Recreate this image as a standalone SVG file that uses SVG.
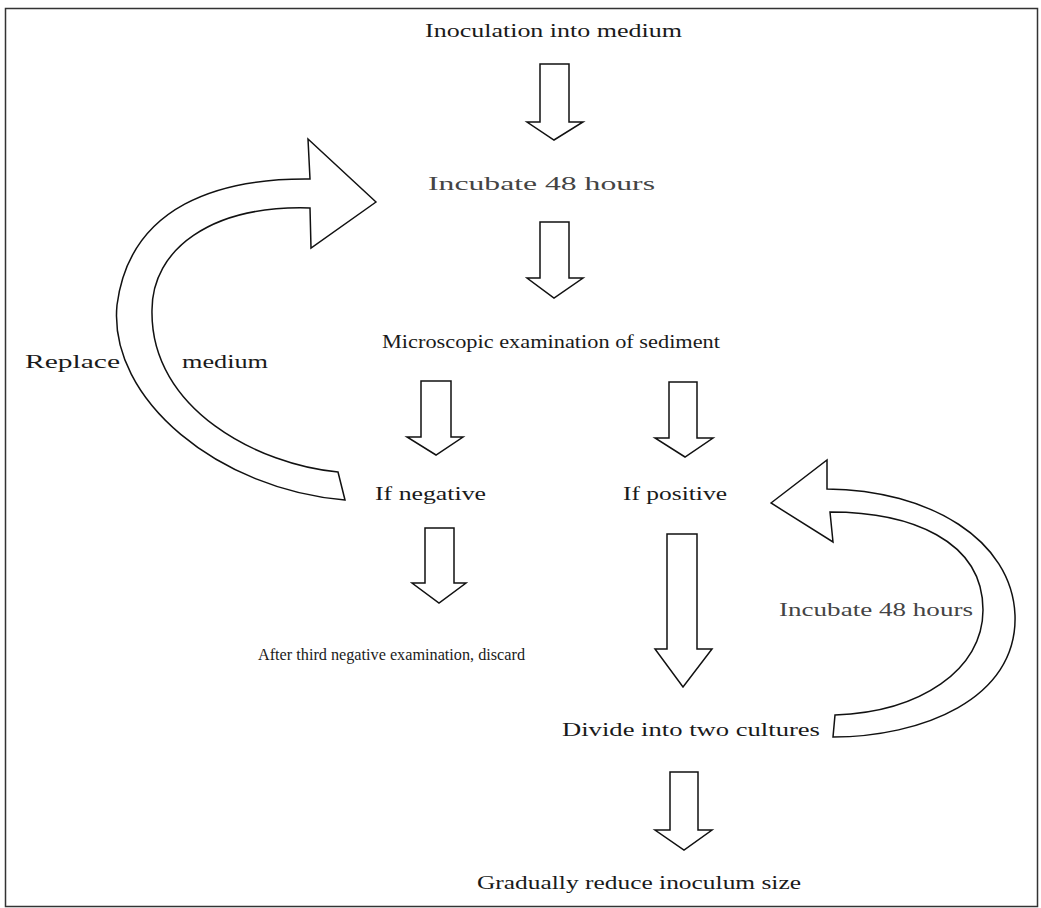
<svg xmlns="http://www.w3.org/2000/svg" width="1041" height="908" viewBox="0 0 1041 908">
<style>
.bg{fill:#fff}
.frame{fill:none;stroke:#333;stroke-width:1.5}
.arr{fill:#fff;stroke:#111;stroke-width:1.5;stroke-linejoin:miter}
.t{font-family:"Liberation Serif","Times New Roman",serif;font-size:18px;fill:#1a1a1a}
.s{font-size:17px}
.g{fill:#444}
</style>
<rect class="bg" x="0" y="0" width="1041" height="908"/>
<rect class="frame" x="5.5" y="8.5" width="1032" height="898"/>
<g id="connectors">
  <path id="a1" class="arr" d="M540,64 H569 V122 H583 L554,140 L527,122 H540 Z"/>
  <path id="a2" class="arr" d="M540,222 H569 V278 H583 L554,298 L527,278 H540 Z"/>
  <path id="a3" class="arr" d="M421,381 H451 V437 H463 L436,455 L407,437 H421 Z"/>
  <path id="a4" class="arr" d="M669,382 H697 V438 H713 L685,457 L655,438 H669 Z"/>
  <path id="a5" class="arr" d="M425,528 H454 V583 H466 L439,603 L412,583 H425 Z"/>
  <path id="a6" class="arr" d="M667,534 H697 V649 H712 L683,687 L655,649 H667 Z"/>
  <path id="a7" class="arr" d="M670,772 H698 V830 H712 L684,850 L655,830 H670 Z"/>
  <path id="loop-left" class="arr" d="M376,202 L308,139 L310,179 C220,178 130,205 117,305 C108,400 220,490 345,500 L338,472 C260,465 150,410 152,310 C152,250 210,205 310,208 L311,248 Z"/>
  <path id="loop-right" class="arr" d="M771,503 L827,460 L827,489 C930,490 1012,540 1015,615 C1018,700 920,737 833,737 L835,715 C920,712 983,670 983,610 C983,540 910,512 830,512 L833,542 Z"/>
</g>
<g id="n-inoculation"><text class="t" x="425" y="37" textLength="257" lengthAdjust="spacingAndGlyphs">Inoculation into medium</text></g>
<g id="n-incubate"><text class="t g" x="428" y="190" textLength="227" lengthAdjust="spacingAndGlyphs">Incubate 48 hours</text></g>
<g id="n-microscopic"><text class="t" x="382" y="348" textLength="338" lengthAdjust="spacingAndGlyphs">Microscopic examination of sediment</text></g>
<g id="l-replace"><text class="t" x="25" y="368" textLength="95" lengthAdjust="spacingAndGlyphs">Replace</text><text class="t" x="182" y="368" textLength="86" lengthAdjust="spacingAndGlyphs">medium</text></g>
<g id="n-negative"><text class="t" x="375" y="500" textLength="111" lengthAdjust="spacingAndGlyphs">If negative</text></g>
<g id="n-positive"><text class="t" x="623" y="500" textLength="104" lengthAdjust="spacingAndGlyphs">If positive</text></g>
<g id="n-discard"><text class="t s" x="258" y="660" textLength="267" lengthAdjust="spacingAndGlyphs">After third negative examination, discard</text></g>
<g id="l-incubate2"><text class="t g" x="779" y="616" textLength="194" lengthAdjust="spacingAndGlyphs">Incubate 48 hours</text></g>
<g id="n-divide"><text class="t" x="562" y="736" textLength="258" lengthAdjust="spacingAndGlyphs">Divide into two cultures</text></g>
<g id="n-reduce"><text class="t" x="477" y="889" textLength="324" lengthAdjust="spacingAndGlyphs">Gradually reduce inoculum size</text></g>
</svg>
